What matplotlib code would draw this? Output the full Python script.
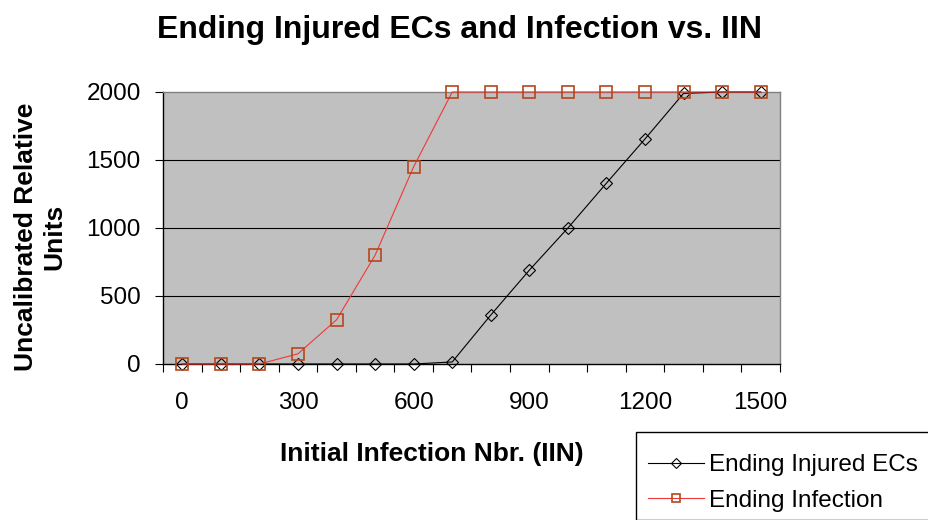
import matplotlib
matplotlib.use("Agg")
import matplotlib.pyplot as plt
from matplotlib.patches import Rectangle
from matplotlib.ticker import FixedLocator, NullFormatter

# Initial infection numbers (categories) and the two series
iin = [0, 100, 200, 300, 400, 500, 600, 700, 800, 900, 1000, 1100, 1200, 1300, 1400, 1500]
injured_ecs = [0, 0, 0, 0, 0, 0, 0, 15, 360, 690, 1000, 1330, 1655, 1990, 2000, 2000]
infection = [0, 0, 0, 75, 325, 800, 1450, 2000, 2000, 2000, 2000, 2000, 2000, 2000, 2000, 2000]

x_labels = [0, 300, 600, 900, 1200, 1500]
y_ticks = [0, 500, 1000, 1500, 2000]

W, H = 929, 520
fig = plt.figure(figsize=(W / 100, H / 100), dpi=100)
ax = fig.add_axes([163 / W, 1 - 364 / H, (780 - 163) / W, (364 - 92) / H])
ax.set_facecolor("#C0C0C0")

reg = ["Liberation Sans", "DejaVu Sans"]

ax.plot(iin, injured_ecs, color="black", lw=0.8, marker="D", ms=6.5,
        mfc="none", mec="black", mew=0.8, clip_on=False, zorder=3,
        label="Ending Injured ECs")
ax.plot(iin, infection, color="#F03838", lw=0.8, marker="s", ms=8.5,
        mfc="none", mec="#B5471B", mew=1.2, clip_on=False, zorder=4,
        label="Ending Infection")

ax.set_xlim(-50, 1550)
ax.set_ylim(0, 2000)

# category boundaries get the tick marks, every third category gets a label
ax.xaxis.set_major_locator(FixedLocator(x_labels))
ax.xaxis.set_minor_locator(FixedLocator([v - 50 for v in iin] + [1550]))
ax.set_xticklabels([str(v) for v in x_labels], fontfamily=reg, fontsize=17.5)
ax.xaxis.set_minor_formatter(NullFormatter())
ax.tick_params(axis="x", which="major", length=0, pad=20)
ax.tick_params(axis="x", which="minor", length=6, width=0.8, direction="out")

ax.set_yticks(y_ticks)
ax.set_yticklabels([str(v) for v in y_ticks], fontfamily=reg, fontsize=17.5)
ax.tick_params(axis="y", length=6, width=0.8, direction="out", pad=10)

for v in y_ticks[1:-1]:
    ax.axhline(v, color="black", lw=0.8, zorder=1)

ax.spines["left"].set_color("black")
ax.spines["bottom"].set_color("black")
ax.spines["top"].set_color("#808080")
ax.spines["right"].set_color("#808080")
for s in ax.spines.values():
    s.set_linewidth(1.0)

fig.text(460 / W, 1 - 38 / H, "Ending Injured ECs and Infection vs. IIN",
         ha="center", va="baseline", fontsize=23, fontweight="bold", fontfamily=reg)
fig.text(432 / W, 1 - 461 / H, "Initial Infection Nbr. (IIN)",
         ha="center", va="baseline", fontsize=19, fontweight="bold", fontfamily=reg)
fig.text(40 / W, 1 - 237 / H, "Uncalibrated Relative\nUnits", rotation=90,
         ha="center", va="center", multialignment="center", linespacing=1.25,
         fontsize=19, fontweight="bold", fontfamily=reg)

# legend box runs off the right and bottom edges, like the original
fig.patches.append(Rectangle((636 / W, 0), 1.0, 1 - 432 / H, transform=fig.transFigure,
                             facecolor="white", edgecolor="black", lw=1.0, zorder=5))
leg = fig.legend(loc="upper left", bbox_to_anchor=(641 / W, 1 - 447 / H),
                 borderaxespad=0, prop={"family": reg, "size": 17.5},
                 frameon=False, handlelength=2.3, handletextpad=0.2,
                 labelspacing=0.55, borderpad=0.3, markerscale=0.75)
leg.set_zorder(6)

fig.savefig("out.png", dpi=100)
